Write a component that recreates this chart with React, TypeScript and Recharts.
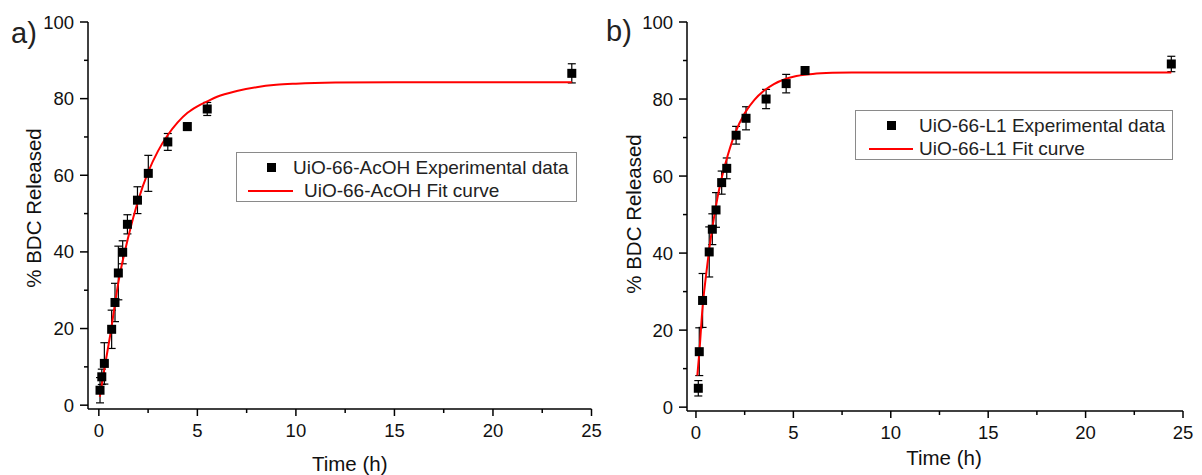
import React from 'react'
import { ComposedChart, ErrorBar, Label, Line, Scatter, XAxis, YAxis } from 'recharts'

// Release of BDC vs time, two panels (a: UiO-66-AcOH, b: UiO-66-L1).
// Values.

const xTicks = [0, 2.5, 5, 7.5, 10, 12.5, 15, 17.5, 20, 22.5, 25]
const yTicks = [0, 10, 20, 30, 40, 50, 60, 70, 80, 90, 100]

// panel a — experimental points
const timeA = [0.06, 0.15, 0.28, 0.65, 0.82, 0.99, 1.21, 1.45, 1.96, 2.51, 3.5, 4.49, 5.5, 24]
const releaseA = [3.9, 7.4, 10.9, 19.8, 26.8, 34.5, 39.9, 47.2, 53.5, 60.5, 68.7, 72.7, 77.3, 86.6]
const errA = [3.3, 2, 5.4, 5, 5, 7, 3, 2.5, 3.5, 4.7, 2.2, 1, 1.7, 2.5]

// panel a — fit curve
const fitTimeA = [0.05, 0.3, 0.6, 1, 1.5, 2, 2.5, 3, 3.5, 4, 4.5, 5, 5.5, 6, 7, 8, 9, 10, 12, 15, 20, 24]
const fitA = [2.2, 10, 19, 32.3, 44, 53.5, 60.8, 66.3, 70.5, 73.8, 76.3, 78, 79.3, 80.5, 82, 83, 83.6, 83.9, 84.2, 84.3, 84.3, 84.3]

// panel b — experimental points
const timeB = [0.12, 0.17, 0.34, 0.68, 0.84, 1.03, 1.32, 1.58, 2.06, 2.57, 3.6, 4.63, 5.6, 24.4]
const releaseB = [4.9, 14.4, 27.7, 40.3, 46.2, 51.2, 58.3, 62, 70.6, 75, 80, 84, 87.4, 89.1]
const errB = [2, 6.2, 7, 6.5, 4, 4.5, 3, 2.7, 2.3, 3, 2.5, 2.4, 1, 2]

// panel b — fit curve
const fitTimeB = [0.07, 0.17, 0.34, 0.5, 0.68, 1, 1.25, 1.5, 2, 2.5, 3, 3.5, 4, 4.6, 5, 6, 7, 8, 10, 15, 24.4]
const fitB = [8.2, 14, 26, 33.5, 41, 51.5, 58, 63, 71, 76.3, 79.8, 82.2, 83.9, 85.2, 85.8, 86.5, 86.8, 86.9, 86.9, 86.9, 86.9]

const FONT = '"Liberation Sans", Arial, Helvetica, sans-serif'
const INK = '#111'

function XTick({ x, y, payload }: any) {
  const major = payload.value % 5 === 0
  return (
    <g>
      <line x1={x} y1={y} x2={x} y2={y + (major ? 7 : 4)} stroke="#000" strokeWidth={1.5} />
      {major && (
        <text x={x} y={y + 28} textAnchor="middle" fontSize={18.5} fontFamily={FONT} fill={INK}>
          {payload.value}
        </text>
      )}
    </g>
  )
}

function YTick({ x, y, payload }: any) {
  const major = payload.value % 20 === 0
  return (
    <g>
      <line x1={x} y1={y} x2={x - (major ? 8 : 4)} y2={y} stroke="#000" strokeWidth={1.5} />
      {major && (
        <text x={x - 14} y={y + 6.5} textAnchor="end" fontSize={18.5} fontFamily={FONT} fill={INK}>
          {payload.value}
        </text>
      )}
    </g>
  )
}

const Square = (p: any) => <rect x={p.cx - 4.5} y={p.cy - 4.5} width={9} height={9} fill="#000" />

interface PanelProps {
  left: number
  width: number
  margin: { top: number; right: number; bottom: number; left: number }
  xDomain: [number, number]
  points: { t: number; y: number; err: number }[]
  fit: { t: number; y: number }[]
  titleDx: number
  titleBaseline: number
  yTitleY: number
}

function Panel({ left, width, margin, xDomain, points, fit, titleDx, titleBaseline, yTitleY }: PanelProps) {
  return (
    <div style={{ position: 'absolute', left, top: 0 }}>
      <ComposedChart width={width} height={475} margin={margin}>
        <XAxis
          type="number"
          dataKey="t"
          domain={xDomain}
          allowDataOverflow
          ticks={xTicks}
          interval={0}
          height={60}
          tickSize={0}
          tickMargin={0}
          tickLine={false}
          axisLine={{ stroke: '#000', strokeWidth: 1.5 }}
          tick={<XTick />}
        >
          <Label
            content={({ viewBox }: any) => (
              <text
                x={viewBox.x + viewBox.width / 2 + titleDx}
                y={viewBox.y + titleBaseline}
                textAnchor="middle"
                fontSize={20.5}
                fontFamily={FONT}
                fill={INK}
              >
                Time (h)
              </text>
            )}
          />
        </XAxis>
        <YAxis
          type="number"
          domain={[-1, 100]}
          allowDataOverflow
          ticks={yTicks}
          interval={0}
          width={40}
          tickSize={0}
          tickMargin={0}
          tickLine={false}
          axisLine={{ stroke: '#000', strokeWidth: 1.5 }}
          tick={<YTick />}
        >
          <Label
            content={() => (
              <text
                x={33}
                y={yTitleY}
                transform={`rotate(-90 33 ${yTitleY})`}
                textAnchor="middle"
                dominantBaseline="central"
                fontSize={20.5}
                fontFamily={FONT}
                fill={INK}
              >
                % BDC Released
              </text>
            )}
          />
        </YAxis>
        <Scatter data={points} dataKey="y" shape={Square} isAnimationActive={false}>
          <ErrorBar dataKey="err" direction="y" width={4} stroke="#000" strokeWidth={1.2} />
        </Scatter>
        <Line
          data={fit}
          dataKey="y"
          type="monotone"
          stroke="#ff0000"
          strokeWidth={2}
          dot={false}
          activeDot={false}
          isAnimationActive={false}
        />
      </ComposedChart>
    </div>
  )
}

const legendText: React.CSSProperties = {
  position: 'absolute',
  fontSize: 19,
  lineHeight: '19px',
  fontFamily: FONT,
  color: '#222',
  whiteSpace: 'nowrap',
}

function LegendBox({
  left, top, width, markerX, text1X, lineX1, lineX2, text2X, name,
}: {
  left: number; top: number; width: number; markerX: number; text1X: number
  lineX1: number; lineX2: number; text2X: number; name: string
}) {
  return (
    <div
      style={{
        position: 'absolute', left, top, width, height: 50,
        border: '1px solid #8a8a8a', boxSizing: 'border-box', background: '#fff',
      }}
    >
      <div style={{ position: 'absolute', left: markerX - left - 4.5, top: 10, width: 9, height: 9, background: '#000' }} />
      <div style={{ ...legendText, left: text1X - left, top: 5 }}>{name} Experimental data</div>
      <div style={{ position: 'absolute', left: lineX1 - left, top: 37, width: lineX2 - lineX1, height: 2, background: '#ff0000' }} />
      <div style={{ ...legendText, left: text2X - left, top: 28 }}>{name} Fit curve</div>
    </div>
  )
}

export default function App() {
  const pointsA = timeA.map((t, i) => ({ t, y: releaseA[i], err: errA[i] }))
  const pointsB = timeB.map((t, i) => ({ t, y: releaseB[i], err: errB[i] }))
  const curveA = fitTimeA.map((t, i) => ({ t, y: fitA[i] }))
  const curveB = fitTimeB.map((t, i) => ({ t, y: fitB[i] }))

  return (
    <div style={{ position: 'absolute', left: 0, top: 0, width: 1202, height: 475, background: '#fff', overflow: 'hidden' }}>
      <Panel
        left={0}
        width={620}
        margin={{ top: 22, right: 28.5, bottom: 6, left: 48 }}
        xDomain={[-0.55, 25]}
        points={pointsA}
        fit={curveA}
        titleDx={10}
        titleBaseline={62}
        yTitleY={208}
      />
      <Panel
        left={600}
        width={602}
        margin={{ top: 22, right: 19, bottom: 4, left: 47 }}
        xDomain={[-0.46, 25]}
        points={pointsB}
        fit={curveB}
        titleDx={9}
        titleBaseline={54}
        yTitleY={214}
      />
      <div style={{ position: 'absolute', left: 11, top: 19, fontSize: 29, lineHeight: '29px', fontFamily: FONT, color: '#222' }}>a)</div>
      <div style={{ position: 'absolute', left: 606, top: 17, fontSize: 29, lineHeight: '29px', fontFamily: FONT, color: '#222' }}>b)</div>
      <LegendBox left={236} top={152} width={341} markerX={270} text1X={292} lineX1={247} lineX2={292} text2X={303} name="UiO-66-AcOH" />
      <LegendBox left={855} top={110} width={318} markerX={890} text1X={918} lineX1={868} lineX2={912} text2X={918} name="UiO-66-L1" />
    </div>
  )
}
